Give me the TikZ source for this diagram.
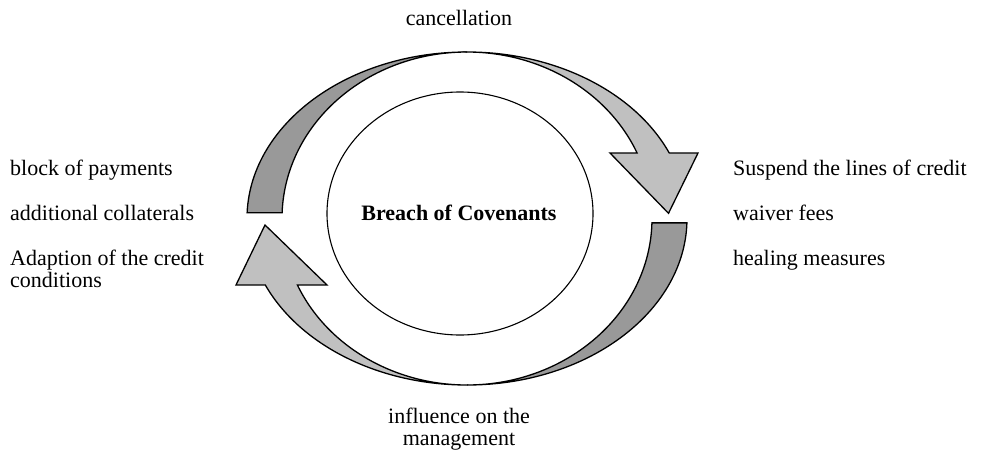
\documentclass[tikz,border=0pt]{standalone}
\usepackage{fontspec}
\setmainfont{Liberation Serif}
\usetikzlibrary{shapes.geometric}
\definecolor{darkband}{RGB}{153,153,153}
\definecolor{lightband}{RGB}{192,192,192}
\begin{document}
\begin{tikzpicture}[x=1pt,y=1pt,
  band/.style={draw=black,line width=1.3pt,line join=miter},
  lbl/.style={font=\fontsize{22}{22}\selectfont,inner sep=0pt},
  lblc/.style={lbl,align=center,anchor=base}]
\useasboundingbox[fill=white] (0,0) rectangle (981,-452);
% centre circle
\node[draw=black,line width=1.1pt,ellipse,minimum width=266pt,minimum height=243pt,inner sep=0pt] (core) at (460,-213.5) {};
\node[lbl,anchor=base,font=\fontsize{22}{22}\selectfont\bfseries] (breach) at (459,-220) {Breach of Covenants};
% top arrow: dark part
\draw[band,fill=darkband] (467,-218.5) ++(178:220 and 166.5)
  arc[start angle=178,end angle=90,x radius=220,y radius=166.5]
  arc[start angle=90,end angle=178,x radius=185,y radius=166.5] -- cycle;
% top arrow: light part with head
\draw[band,fill=lightband] (467,-52)
  arc[start angle=90,end angle=23.17,x radius=220,y radius=166.5]
  -- (698,-153) -- (668.5,-213.3) -- (610,-153) -- (637.1,-153)
  arc[start angle=23.17,end angle=90,x radius=185,y radius=166.5] -- cycle;
% bottom arrow: dark part
\draw[band,fill=darkband] (467,-218.5) ++(-1.5:220 and 166.5)
  arc[start angle=-1.5,end angle=-90,x radius=220,y radius=166.5]
  arc[start angle=-90,end angle=-1.5,x radius=185,y radius=166.5] -- cycle;
% bottom arrow: light part with head
\draw[band,fill=lightband] (467,-385)
  arc[start angle=-90,end angle=-156.46,x radius=220,y radius=166.5]
  -- (236,-285) -- (265,-225) -- (327,-285) -- (297.4,-285)
  arc[start angle=-156.46,end angle=-90,x radius=185,y radius=166.5] -- cycle;
% labels
\node[lblc] (cancel) at (459,-26) {cancellation};
\node[lblc] (influence) at (459,-445) {influence on the\\management};
\node[lbl,anchor=base west] (block) at (10,-175) {block of payments};
\node[lbl,anchor=base west] (coll) at (10,-220) {additional collaterals};
\node[lbl,anchor=base west,align=left] (adapt) at (10,-287) {Adaption of the credit\\conditions};
\node[lbl,anchor=base west] (susp) at (733,-175) {Suspend the lines of credit};
\node[lbl,anchor=base west] (waiver) at (733,-220) {waiver fees};
\node[lbl,anchor=base west] (heal) at (733,-265) {healing measures};
\end{tikzpicture}
\end{document}
